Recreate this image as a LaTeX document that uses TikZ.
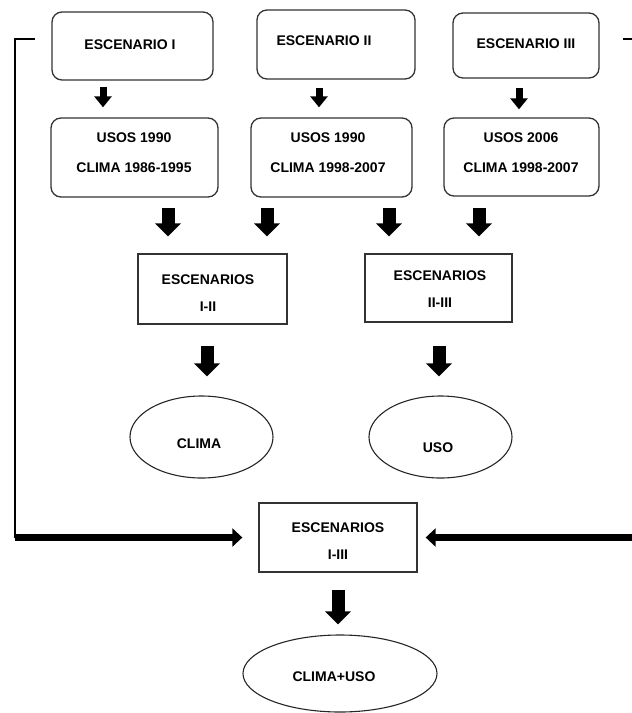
\documentclass[tikz,border=0pt]{standalone}
\usepackage{fontspec}
\setmainfont{Liberation Sans}
\usetikzlibrary{shapes.geometric,arrows.meta}
\begin{document}
\begin{tikzpicture}[x=1pt,y=-1pt,
  txt/.style={font=\bfseries\fontsize{14}{27}\selectfont, align=center, inner sep=0pt, text=black},
  txtw/.style={txt, font=\bfseries\fontsize{14}{30}\selectfont},
  rbox/.style={draw=black!80, line width=1.3pt, rounded corners=10pt, inner sep=0pt},
  sbox/.style={draw=black!80, line width=1.3pt, inner sep=0pt},
  ell/.style={draw=black!85, line width=1.1pt, ellipse, inner sep=0pt},
  sarr/.style={line width=7pt, -{Triangle[width=17pt,length=11pt]}},
  barr/.style={line width=13pt, -{Triangle[width=25pt,length=13pt]}},
  harr/.style={line width=6.5pt, -{Triangle[width=18pt,length=10pt]}},
  thinl/.style={line width=2.5pt}]
\useasboundingbox (0,0) rectangle (632,713);

% top row
\node[rbox, minimum width=161pt, minimum height=68pt] (t1) at (132.5,46) {};
\node[txt] (t1t) at (130,45) {ESCENARIO I};
\node[rbox, minimum width=158pt, minimum height=69pt] (t2) at (336,44.5) {};
\node[txt] (t2t) at (324,41) {ESCENARIO II};
\node[rbox, minimum width=146pt, minimum height=65pt] (t3) at (526,45.5) {};
\node[txt] (t3t) at (526,43.5) {ESCENARIO III};

% middle row
\node[rbox, minimum width=167pt, minimum height=79pt] (m1) at (134.5,157.5) {};
\node[txtw] (m1t) at (134,153) {USOS 1990\\CLIMA 1986-1995};
\node[rbox, minimum width=161pt, minimum height=79pt] (m2) at (331.5,157.5) {};
\node[txtw] (m2t) at (328,153) {USOS 1990\\CLIMA 1998-2007};
\node[rbox, minimum width=155pt, minimum height=78pt] (m3) at (521.5,157) {};
\node[txtw] (m3t) at (521,153) {USOS 2006\\CLIMA 1998-2007};

% scenario boxes
\node[sbox, minimum width=149pt, minimum height=70pt] (e12) at (212.5,289) {};
\node[txt] (e12t) at (208,293.5) {ESCENARIOS\\I-II};
\node[sbox, minimum width=147pt, minimum height=68pt] (e23) at (438.5,288) {};
\node[txt] (e23t) at (440,289.5) {ESCENARIOS\\II-III};
\node[sbox, minimum width=158pt, minimum height=69pt] (e13) at (338,537.5) {};
\node[txt] (e13t) at (338,541.5) {ESCENARIOS\\I-III};

% ellipses
\node[ell, minimum width=143pt, minimum height=82pt] (c1) at (201.5,437) {};
\node[txt] (c1t) at (199,444) {CLIMA};
\node[ell, minimum width=143pt, minimum height=82pt] (c2) at (440.5,437) {};
\node[txt] (c2t) at (438,448) {USO};
\node[ell, minimum width=194pt, minimum height=77pt] (c3) at (340,673.5) {};
\node[txt] (c3t) at (334,677) {CLIMA+USO};

% small arrows
\draw[sarr, shorten <=6pt, shorten >=10pt] (t1.south -| 103,0) -- (m1.north -| 103,0);
\draw[sarr, shorten <=8pt, shorten >=10pt] (t2.south -| 319,0) -- (m2.north -| 319,0);
\draw[sarr, shorten <=9pt, shorten >=8pt] (t3.south -| 519,0) -- (m3.north -| 519,0);

% big arrows
\draw[barr, shorten <=10pt, shorten >=17pt] (m1.south -| 168,0) -- (e12.north -| 168,0);
\draw[barr, shorten <=10pt, shorten >=17pt] (m2.south -| 267,0) -- (e12.north -| 267,0);
\draw[barr, shorten <=10pt, shorten >=17pt] (m2.south -| 389,0) -- (e23.north -| 389,0);
\draw[barr, shorten <=11pt, shorten >=17pt] (m3.south -| 479,0) -- (e23.north -| 479,0);
\draw[barr, shorten <=21pt, shorten >=19pt] (e12.south -| 207,0) -- (c1.north -| 207,0);
\draw[barr, shorten <=23pt, shorten >=19pt] (e23.south -| 439,0) -- (c2.north -| 439,0);
\draw[barr, shorten <=17pt, shorten >=10pt] (e13.south) -- (c3.north -| e13.south);

% feedback lines
\coordinate (ls) at (35,39);
\coordinate (lc) at (15,537.5);
\draw[thinl] (ls) -| (lc);
\draw[harr, shorten >=16pt] (lc) -- (e13.west);
\coordinate (rs) at (623,39);
\coordinate (re) at (632,39);
\draw[thinl] (rs) -- (re);
\coordinate (rb) at (632,537.5);
\draw[harr, shorten >=8pt] (rb) -- (e13.east);
\end{tikzpicture}
\end{document}
